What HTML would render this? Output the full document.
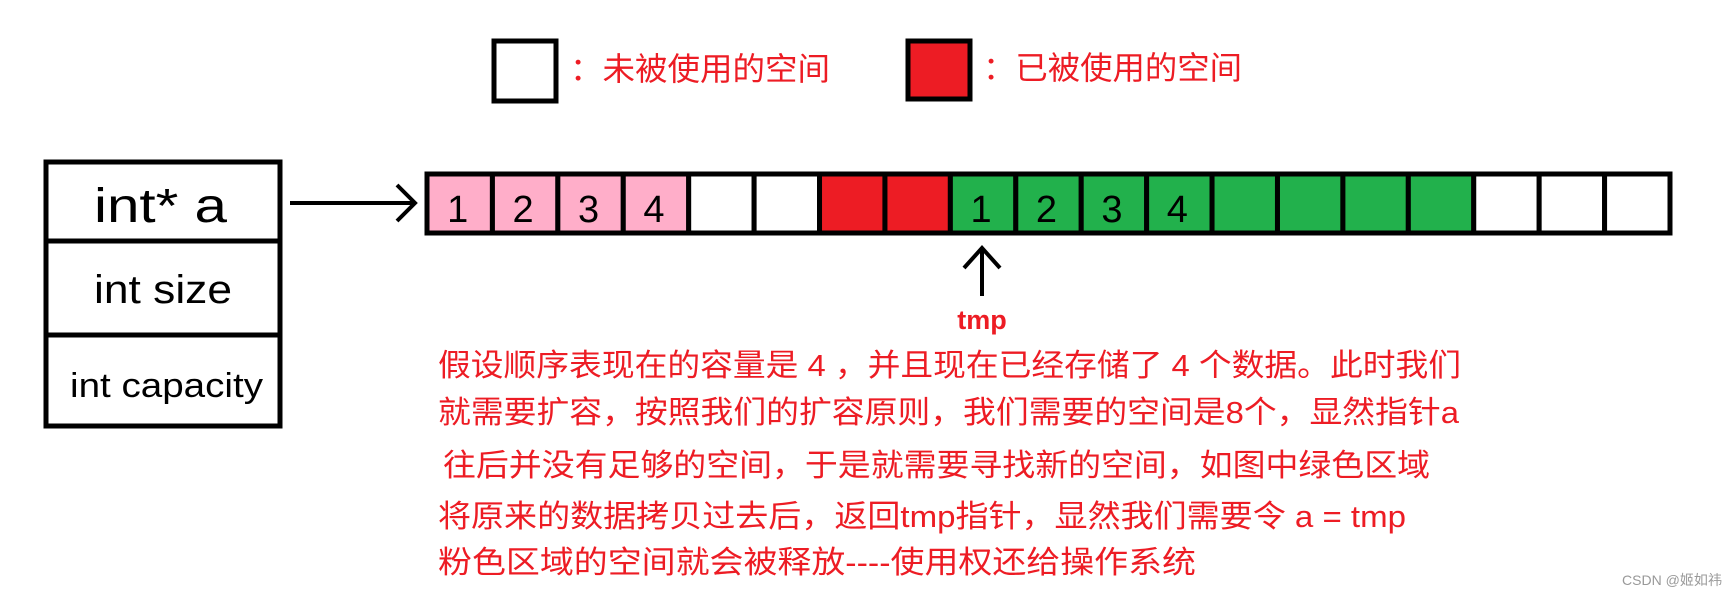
<!DOCTYPE html>
<html><head><meta charset="utf-8"><style>
html,body{margin:0;padding:0;background:#fff;}
svg{display:block;}
.cn{font-family:"Liberation Sans","Noto Sans CJK SC",sans-serif;}
</style></head><body>
<svg width="1736" height="597" viewBox="0 0 1736 597" xmlns="http://www.w3.org/2000/svg">
<!-- legend -->
<rect x="494" y="41" width="62" height="60" fill="#fff" stroke="#000" stroke-width="5"/>
<text class="cn" x="570" y="80" font-size="32" fill="#ed1c24" textLength="260" lengthAdjust="spacingAndGlyphs">：未被使用的空间</text>
<rect x="908" y="41" width="62" height="58" fill="#ed1c24" stroke="#000" stroke-width="5"/>
<text class="cn" x="983" y="79" font-size="32" fill="#ed1c24" textLength="259" lengthAdjust="spacingAndGlyphs">：已被使用的空间</text>

<!-- struct box -->
<rect x="46" y="162" width="234" height="264" fill="#fff" stroke="#000" stroke-width="5"/>
<line x1="44" y1="241" x2="282" y2="241" stroke="#000" stroke-width="5"/>
<line x1="44" y1="335" x2="282" y2="335" stroke="#000" stroke-width="5"/>
<text class="cn" x="94" y="222" font-size="48" fill="#000" textLength="133" lengthAdjust="spacingAndGlyphs">int* a</text>
<text class="cn" x="94" y="303" font-size="40" fill="#000" textLength="138" lengthAdjust="spacingAndGlyphs">int size</text>
<text class="cn" x="70" y="397" font-size="34" fill="#000" textLength="193" lengthAdjust="spacingAndGlyphs">int capacity</text>

<!-- arrow to array -->
<line x1="290" y1="203" x2="414" y2="203" stroke="#000" stroke-width="4"/>
<polyline points="397,185 415,203 397,221" fill="none" stroke="#000" stroke-width="4"/>

<!-- array -->
<g stroke="#000" stroke-width="5">
<rect x="427" y="174" width="1243" height="59" fill="#fff"/>
</g>
<g id="cells"></g>
<script>
(function(){
var g=document.getElementById('cells');var ns='http://www.w3.org/2000/svg';
var x0=427,w=(1670-427)/19;
var cols=['#ffaec9','#ffaec9','#ffaec9','#ffaec9','#fff','#fff','#ed1c24','#ed1c24','#22b14c','#22b14c','#22b14c','#22b14c','#22b14c','#22b14c','#22b14c','#22b14c','#fff','#fff','#fff'];
var labels={0:'1',1:'2',2:'3',3:'4',8:'1',9:'2',10:'3',11:'4'};
for(var i=0;i<19;i++){
 var r=document.createElementNS(ns,'rect');
 r.setAttribute('x',x0+i*w);r.setAttribute('y',174);r.setAttribute('width',w);r.setAttribute('height',59);
 r.setAttribute('fill',cols[i]);r.setAttribute('stroke','#000');r.setAttribute('stroke-width','5');
 g.appendChild(r);
 if(labels[i]){var t=document.createElementNS(ns,'text');
 t.setAttribute('x',x0+i*w+w/2-2);t.setAttribute('y',222);t.setAttribute('font-size','38');
 t.setAttribute('text-anchor','middle');t.setAttribute('fill','#000');
 t.setAttribute('font-family','Liberation Sans, sans-serif');t.setAttribute('transform','');
 t.textContent=labels[i];g.appendChild(t);}
}
})();
</script>

<!-- tmp arrow -->
<line x1="982" y1="250" x2="982" y2="296" stroke="#000" stroke-width="4"/>
<polyline points="964,268 982,248 1000,268" fill="none" stroke="#000" stroke-width="4"/>
<text class="cn" x="982" y="329" font-size="27" font-weight="bold" fill="#ed1c24" text-anchor="middle">tmp</text>

<!-- description -->
<g class="cn" font-size="31" fill="#ed1c24">
<text x="438" y="376" textLength="1023" lengthAdjust="spacingAndGlyphs">假设顺序表现在的容量是 4 ，并且现在已经存储了 4 个数据。此时我们</text>
<text x="438" y="423" textLength="1021" lengthAdjust="spacingAndGlyphs">就需要扩容，按照我们的扩容原则，我们需要的空间是8个，显然指针a</text>
<text x="443" y="476" textLength="987" lengthAdjust="spacingAndGlyphs">往后并没有足够的空间，于是就需要寻找新的空间，如图中绿色区域</text>
<text x="438" y="527" textLength="968" lengthAdjust="spacingAndGlyphs">将原来的数据拷贝过去后，返回tmp指针，显然我们需要令 a = tmp</text>
<text x="438" y="573" textLength="758" lengthAdjust="spacingAndGlyphs">粉色区域的空间就会被释放----使用权还给操作系统</text>
</g>
<text class="cn" x="1622" y="585" font-size="14" fill="#999" textLength="100" lengthAdjust="spacingAndGlyphs">CSDN @姬如祎</text>
</svg>
</body></html>
